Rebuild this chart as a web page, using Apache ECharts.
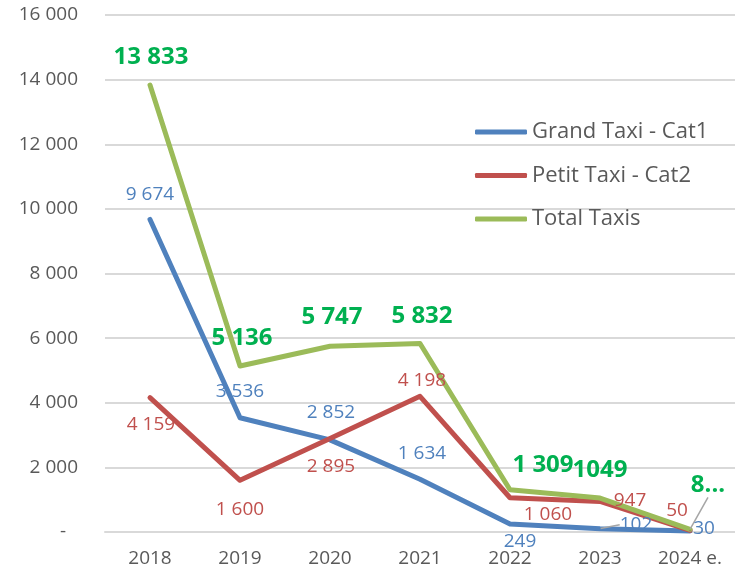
<!DOCTYPE html>
<html>
<head>
<meta charset="utf-8">
<title>Taxis</title>
<script src="https://cdn.jsdelivr.net/npm/echarts@6/dist/echarts.min.js"></script>
<style>
    html, body { margin: 0; padding: 0; background: #fff; }
    #echart-taxis { width: 735px; height: 577px; }
</style>
</head>
<body>
<div id="echart-taxis"></div>
<script>
// Taxi counts per year
var years = ['2018', '2019', '2020', '2021', '2022', '2023', '2024 e.'];
var grandTaxi = [9674, 3536, 2852, 1634, 249, 102, 30];
var petitTaxi = [4159, 1600, 2895, 4198, 1060, 947, 50];
var totalTaxis = [13833, 5136, 5747, 5832, 1309, 1049, 80];
var totalLabels = ['13 833', '5 136', '5 747', '5 832', '1 309', '1049', '8...'];
var seriesNames = ['Grand Taxi - Cat1', 'Petit Taxi - Cat2', 'Total Taxis'];

// label offsets from the point (px), layout only
var blueOffsets = [[0, -25], [0, -26], [1, -27], [2, -26], [10, 18], [36, -4], [14, -2]];
var redOffsets = [[1, 27], [0, 29], [1, 28], [2, -16], [38, 17], [30, -1], [-13, -20]];
var greenOffsets = [[1, -28], [2, -28], [2, -29], [2, -27], [33, -25], [0, -28], [18, -44]];

(function() {
    "use strict";
    var FONT = '"Open Sans", "Noto Sans", sans-serif';
    var GREY = '#595959';
    var chart = getChart("echart-taxis");

    function fmt(v) {
        return String(v).replace(/\B(?=(\d{3})+(?!\d))/g, ' ');
    }

    function buildData(values, offsets, leaders) {
        return values.map(function(v, i) {
            var item = {
                value: v,
                label: { position: [offsets[i][0] + 0.5, offsets[i][1] + 0.5] }
            };
            if (leaders.indexOf(i) >= 0) {
                item.labelLine = {
                    show: true,
                    lineStyle: { color: '#A6A6A6', width: 1.5 }
                };
            }
            return item;
        });
    }

    function lineSeries(name, color, values, offsets, leaders, label) {
        return {
            name: name,
            type: 'line',
            color: color,
            symbol: 'circle',
            symbolSize: 1,
            lineStyle: { width: 5, color: color, cap: 'round', join: 'round' },
            label: label,
            labelLine: { show: false },
            data: buildData(values, offsets, leaders),
            animation: false
        };
    }

    var option = {
        grid: {
            left: 105,
            right: 0,
            top: 15,
            bottom: 45
        },
        legend: {
            orient: 'vertical',
            left: 475,
            top: 119,
            padding: 0,
            icon: 'roundRect',
            itemWidth: 52,
            itemHeight: 5,
            itemGap: 17.5,
            data: seriesNames,
            textStyle: {
                color: GREY,
                fontFamily: FONT,
                fontSize: 22,
                lineHeight: 26
            }
        },
        xAxis: {
            type: 'category',
            data: years,
            axisLine: { lineStyle: { color: '#D9D9D9', width: 2 } },
            axisTick: { show: false },
            axisLabel: {
                color: GREY,
                fontFamily: FONT,
                fontSize: 19,
                margin: 17
            }
        },
        yAxis: {
            type: 'value',
            min: 0,
            max: 16000,
            interval: 2000,
            axisLine: { show: false },
            axisTick: { show: false },
            splitLine: { lineStyle: { color: '#D9D9D9', width: 2 } },
            axisLabel: {
                color: GREY,
                fontFamily: FONT,
                fontSize: 19,
                margin: 27,
                formatter: function(v) {
                    return v === 0 ? '{z|-}' : fmt(v);
                },
                rich: {
                    z: { color: GREY, fontFamily: FONT, fontSize: 19, padding: [0, 12, 0, 0] }
                }
            }
        },
        series: [
            lineSeries(seriesNames[0], '#4F81BD', grandTaxi, blueOffsets, [5], {
                show: true,
                align: 'center',
                verticalAlign: 'middle',
                color: '#4F81BD',
                fontFamily: FONT,
                fontSize: 19,
                formatter: function(p) { return fmt(p.value); }
            }),
            lineSeries(seriesNames[1], '#C0504D', petitTaxi, redOffsets, [], {
                show: true,
                align: 'center',
                verticalAlign: 'middle',
                color: '#C0504D',
                fontFamily: FONT,
                fontSize: 19,
                formatter: function(p) { return fmt(p.value); }
            }),
            lineSeries(seriesNames[2], '#9BBB59', totalTaxis, greenOffsets, [6], {
                show: true,
                align: 'center',
                verticalAlign: 'middle',
                color: '#00B050',
                fontFamily: FONT,
                fontWeight: 'bold',
                fontSize: 24,
                formatter: function(p) { return totalLabels[p.dataIndex]; }
            })
        ]
    };
    if (option && typeof option === "object") {
        chart.setOption(option, true);
    }
    window.addEventListener('resize', function() {
        chart.resize();
    });
})();

function getChart(id) {
    var dom = document.getElementById(id);
    return echarts.init(dom);
}
</script>
</body>
</html>
